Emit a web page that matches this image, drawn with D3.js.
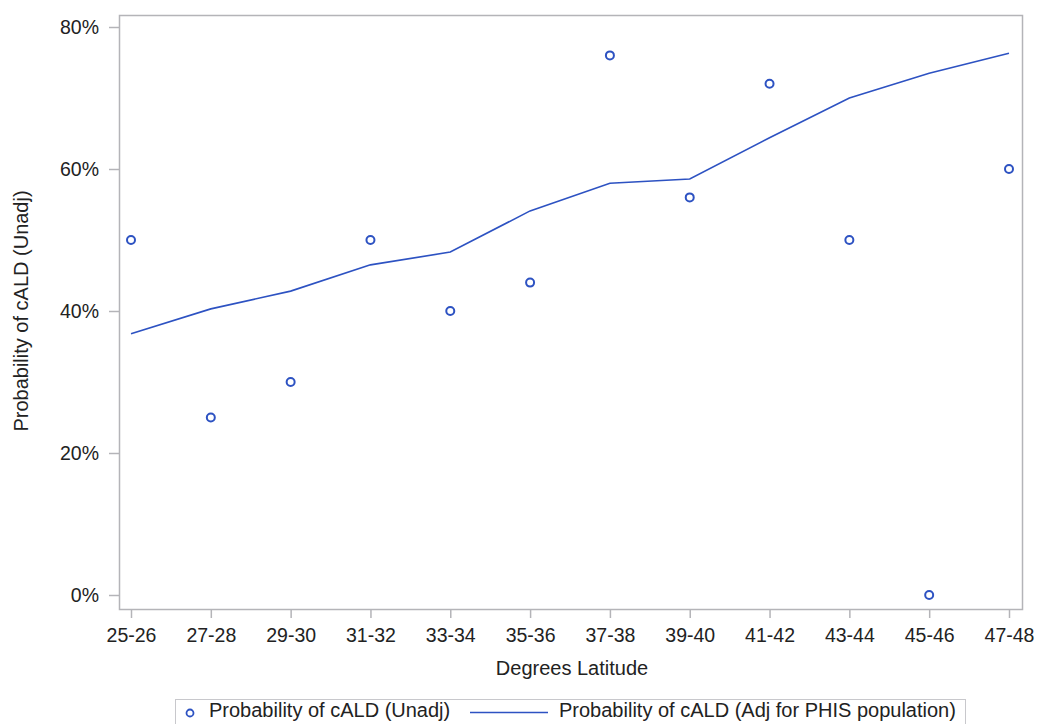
<!DOCTYPE html>
<html>
<head>
<meta charset="utf-8">
<script src="https://cdn.jsdelivr.net/npm/d3@7"></script>
<style>
  body { margin: 0; background: #fff; }
  text { font-family: "Liberation Sans", Arial, sans-serif; fill: #222; }
</style>
</head>
<body>
<div id="chart"></div>
<script>
var categories = ["25-26", "27-28", "29-30", "31-32", "33-34", "35-36", "37-38", "39-40", "41-42", "43-44", "45-46", "47-48"];
var unadj = [0.50, 0.25, 0.30, 0.50, 0.40, 0.44, 0.76, 0.56, 0.72, 0.50, 0.00, 0.60];
var adjusted = [0.368, 0.403, 0.428, 0.465, 0.483, 0.541, 0.580, 0.586, 0.644, 0.700, 0.735, 0.763];
var yTicks = [0, 0.2, 0.4, 0.6, 0.8];

var blue = "#2d52c2";
var frameColor = "#b4b4b8";

var W = 1037, H = 724;
var frame = {left: 119, top: 15, right: 1022, bottom: 609};

var svg = d3.select("#chart").append("svg")
  .attr("width", W)
  .attr("height", H);

var x = d3.scalePoint()
  .domain(categories)
  .range([131, 1009]);

var y = d3.scaleLinear()
  .domain([0, 0.8])
  .range([595, 27]);

// frame
svg.append("rect")
  .attr("x", frame.left + 0.5)
  .attr("y", frame.top + 0.5)
  .attr("width", frame.right - frame.left)
  .attr("height", frame.bottom - frame.top)
  .attr("fill", "none")
  .attr("stroke", frameColor)
  .attr("stroke-width", 1.5);

// axes
var xAxis = svg.append("g")
  .attr("transform", "translate(0," + (frame.bottom + 1) + ")")
  .call(d3.axisBottom(x).tickSize(8));
xAxis.selectAll(".tick text").attr("y", 32).attr("dy", 0);

var yAxis = svg.append("g")
  .attr("transform", "translate(" + (frame.left) + ",0)")
  .call(d3.axisLeft(y).tickValues(yTicks).tickFormat(d3.format(".0%")).tickSize(10));
yAxis.selectAll(".tick text").attr("x", -20).attr("dy", "0.34em");

[xAxis, yAxis].forEach(function(g) {
  g.select(".domain").remove();
  g.selectAll(".tick line").attr("stroke", frameColor).attr("stroke-width", 1.5);
  g.selectAll(".tick text")
    .style("font-size", "19.5px")
    .style("font-family", "'Liberation Sans', Arial, sans-serif")
    .attr("fill", "#222");
});

// axis titles
svg.append("text")
  .attr("x", 572)
  .attr("y", 675)
  .attr("text-anchor", "middle")
  .style("font-size", "20px")
  .text("Degrees Latitude");

svg.append("text")
  .attr("transform", "translate(28,311) rotate(-90)")
  .attr("text-anchor", "middle")
  .style("font-size", "20px")
  .text("Probability of cALD (Unadj)");

// adjusted line
var line = d3.line()
  .x(function(d, i) { return x(categories[i]); })
  .y(function(d) { return y(d); });

svg.append("path")
  .datum(adjusted)
  .attr("d", line)
  .attr("fill", "none")
  .attr("stroke", blue)
  .attr("stroke-width", 1.6);

// unadjusted markers
svg.selectAll(".pt")
  .data(unadj)
  .enter().append("circle")
  .attr("class", "pt")
  .attr("cx", function(d, i) { return x(categories[i]); })
  .attr("cy", function(d) { return y(d); })
  .attr("r", 4)
  .attr("fill", "none")
  .attr("stroke", blue)
  .attr("stroke-width", 2);

// legend
var legend = svg.append("g");
legend.append("rect")
  .attr("x", 175.5)
  .attr("y", 699.5)
  .attr("width", 790)
  .attr("height", 30)
  .attr("fill", "none")
  .attr("stroke", "#c8c8cc")
  .attr("stroke-width", 1);

legend.append("circle")
  .attr("cx", 190)
  .attr("cy", 713)
  .attr("r", 3.5)
  .attr("fill", "none")
  .attr("stroke", blue)
  .attr("stroke-width", 1.8);
legend.append("text")
  .attr("x", 209)
  .attr("y", 717)
  .style("font-size", "20px")
  .text("Probability of cALD (Unadj)");

legend.append("line")
  .attr("x1", 470)
  .attr("x2", 548)
  .attr("y1", 712.5)
  .attr("y2", 712.5)
  .attr("stroke", blue)
  .attr("stroke-width", 1.6);
legend.append("text")
  .attr("x", 559)
  .attr("y", 717)
  .style("font-size", "20px")
  .text("Probability of cALD (Adj for PHIS population)");
</script>
</body>
</html>
